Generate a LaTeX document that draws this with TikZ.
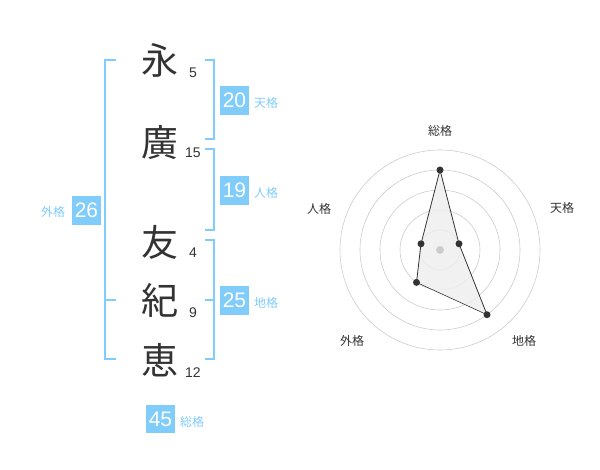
\documentclass[tikz,border=0pt]{standalone}
\usepackage{fontspec}
\setmainfont{Liberation Sans}
\newfontfamily\jp{Noto Sans CJK JP}
\definecolor{kblue}{HTML}{80CCFA}
\definecolor{ktext}{HTML}{333333}
\definecolor{kgrid}{HTML}{CCCCCC}
\definecolor{kfill}{HTML}{EEEEEE}
\begin{document}
\begin{tikzpicture}[x=1pt,y=-1pt,
  brk/.style={draw=kblue,line width=2pt},
  numbox/.style={fill=kblue,text=white,minimum width=28.5pt,minimum height=28.5pt,inner sep=0pt,font=\fontsize{21}{21}\selectfont},
  blab/.style={text=kblue,inner sep=0pt,font=\jp\fontsize{12}{12}\selectfont},
  kanji/.style={text=ktext,inner sep=0pt,font=\jp\fontsize{37}{37}\selectfont},
  strk/.style={text=ktext,inner sep=0pt,font=\fontsize{14}{14}\selectfont},
  rlab/.style={text=ktext,inner sep=0pt,font=\jp\fontsize{12}{12}\selectfont},
  grid/.style={draw=kgrid,line width=0.6pt},
  vdot/.style={circle,fill=ktext,inner sep=0pt,minimum size=7pt}]
\useasboundingbox (0,0) rectangle (600,470);
% brackets
\draw[brk] (116,60) -- (105,60) -- (105,359) -- (116,359);
\draw[brk] (105,300) -- (116,300);
\draw[brk] (205,60) -- (214,60) -- (214,139) -- (205,139);
\draw[brk] (205,149) -- (214,149) -- (214,230) -- (205,230);
\draw[brk] (205,240) -- (214,240) -- (214,359) -- (205,359);
\draw[brk] (205,300) -- (214,300);
% characters
\node[kanji] (c1) at (160,60) {永};
\node[kanji] (c2) at (160,142) {廣};
\node[kanji] (c3) at (160,242) {友};
\node[kanji] (c4) at (160,300) {紀};
\node[kanji] (c5) at (160,360) {恵};
\node[strk] (s1) at (193,73) {5};
\node[strk] (s2) at (193,153) {15};
\node[strk] (s3) at (193,253) {4};
\node[strk] (s4) at (193,313) {9};
\node[strk] (s5) at (193,373) {12};
% boxes
\node[numbox] (gai) at (86.5,210.5) {26};
\node[blab] (gail) at (53,212) {外格};
\node[numbox] (ten) at (234.5,100.5) {20};
\node[blab] (tenl) at (266,103) {天格};
\node[numbox] (jin) at (234.5,190.5) {19};
\node[blab] (jinl) at (266,193) {人格};
\node[numbox] (chi) at (234.5,300.5) {25};
\node[blab] (chil) at (266,303) {地格};
\node[numbox] (sou) at (160.5,419) {45};
\node[blab] (soul) at (192,422) {総格};
% radar
\coordinate (O) at (440,250);
\foreach \r in {20,40,60,80,100} \draw[grid] (O) circle[radius=\r];
\coordinate (pS) at (440,170);
\coordinate (pT) at (459,243.8);
\coordinate (pC) at (487,314.7);
\coordinate (pG) at (416.5,282.4);
\coordinate (pJ) at (421,243.8);
\fill[kfill,opacity=0.8] (pS) -- (pT) -- (pC) -- (pG) -- (pJ) -- cycle;
\draw[ktext,line width=0.8pt] (pG) -- (pJ) -- (pS) -- (pT) -- (pC);
\draw[ktext,line width=0.6pt] (pC) -- (pG);
\node[circle,fill=kgrid,inner sep=0pt,minimum size=8pt] (ctr) at (O) {};
\foreach \p in {pS,pT,pC,pG,pJ} \node[vdot] at (\p) {};
\node[rlab] (rS) at (440,131) {総格};
\node[rlab] (rT) at (562,208) {天格};
\node[rlab] (rJ) at (319,209) {人格};
\node[rlab] (rG) at (352,341) {外格};
\node[rlab] (rC) at (524,341) {地格};
\end{tikzpicture}
\end{document}
